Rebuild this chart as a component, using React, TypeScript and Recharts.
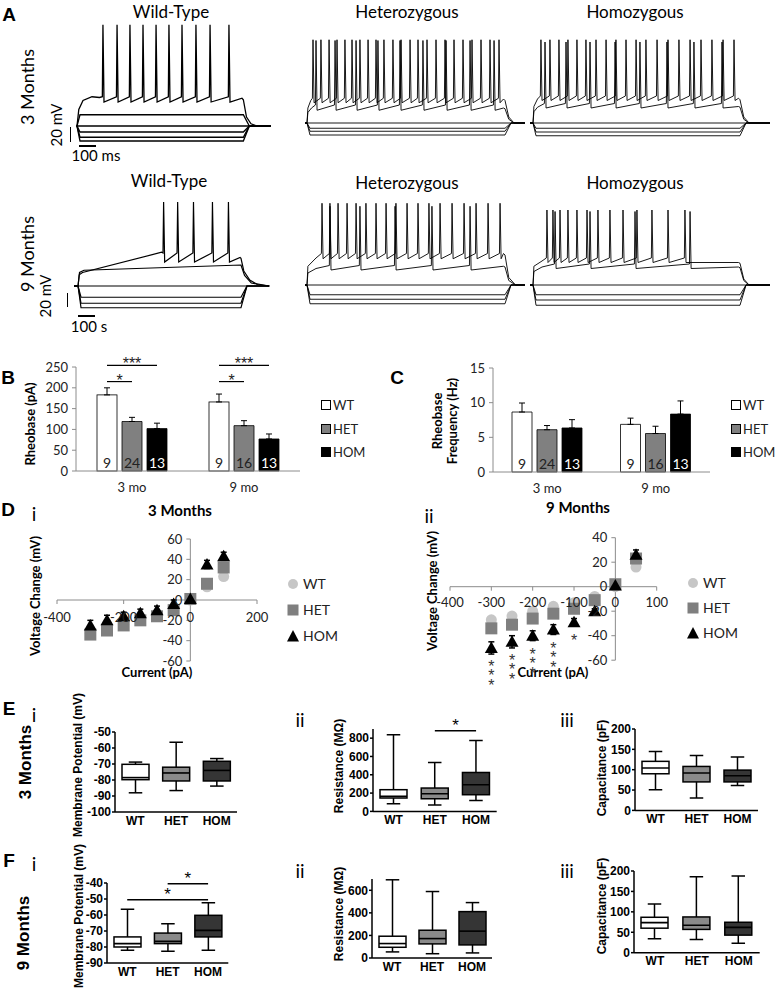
import React from "react";
import {
  BarChart,
  Bar,
  XAxis,
  YAxis,
  ErrorBar,
  LabelList,
  ScatterChart,
  Scatter,
  ReferenceLine,
  ReferenceDot,
  LineChart,
  Line,
} from "recharts";

const SANS = "Lato, 'Open Sans', sans-serif";
const ARIAL = "'Liberation Sans', Arial, sans-serif";
const AXIS = "#8c8c8c";

const groups = ["WT", "HET", "HOM"];
const barFill = ["#ffffff", "#808080", "#000000"];
const dotFill = ["#c6c6c6", "#7f7f7f", "#000000"];
const boxFill = ["#ffffff", "#8a8a8a", "#353535"];

// ---- A: example sweeps (ms from step onset, mV from rest) ----
const wt3Onset = [[-3, 0], [0, 0], [12, 22], [40, 34], [100, 39], [150, 38]];
const wt3Spikes = [173, 267, 353, 440, 527, 613, 700, 793, 887, 1013];
const wt3Shape = [135, 32, 39];
const wt3Tail = [[1100, 37], [1109, 35], [1130, 12], [1160, 3], [1200, 0], [1291, 0]];
const wt3Steps = [15, 0, -8, -15, -20];
const wt3Times = [-3, 1109, 1291];

const het3HiOnset = [[-13, 0], [0, 0], [6, 20], [25, 30]];
const het3HiSpikes = [40, 93, 147, 200, 253, 300, 353, 407, 460, 513, 573, 627, 687, 740, 800, 860, 920, 980, 1040, 1100, 1160, 1220, 1280];
const het3HiShape = [111, 27, 33];
const het3HiTail = [[1310, 32], [1320, 30], [1345, 8], [1380, 0], [1453, 0]];
const het3LoOnset = [[-13, 0], [0, 0], [6, 14], [30, 20]];
const het3LoSpikes = [60, 187, 327, 473, 620, 773, 927, 1087, 1247];
const het3LoShape = [110, 17, 24];
const het3LoTail = [[1310, 20], [1320, 19], [1345, 5], [1380, 0], [1453, 0]];
const het3Steps = [0, -7, -11, -16];
const het3Times = [-13, 1320, 1453];

const hom3HiOnset = [[-20, 0], [0, 0], [6, 22], [30, 32]];
const hom3HiSpikes = [53, 113, 173, 233, 293, 353, 420, 487, 553, 620, 687, 753, 827, 900, 973, 1047, 1120, 1193, 1267, 1340];
const hom3HiShape = [111, 30, 36];
const hom3HiTail = [[1370, 33], [1380, 31], [1405, 8], [1440, 0], [1580, 0]];
const hom3LoOnset = [[-20, 0], [0, 0], [6, 15], [30, 21]];
const hom3LoSpikes = [80, 220, 380, 547, 713, 893, 1073, 1260];
const hom3LoShape = [108, 20, 26];
const hom3LoTail = [[1370, 22], [1380, 21], [1405, 5], [1440, 0], [1580, 0]];
const hom3Steps = [0, -7, -12, -17];
const hom3Times = [-20, 1380, 1580];

const wt9Onset = [[-27, 0], [0, 0], [8, 15], [30, 18], [560, 45]];
const wt9Spikes = [573, 667, 773, 900, 1007];
const wt9Shape = [112, 32, 44];
const wt9Tail = [[1085, 38], [1091, 37], [1110, 20], [1150, 8], [1200, 2], [1280, 0]];
const wt9Sub = [[-27, 0], [0, 0], [10, 18], [40, 21], [1091, 28], [1115, 14], [1160, 4], [1280, 0]];
const wt9Steps = [0, -15, -23, -29];
const wt9Times = [-27, 1091, 1280];

const het9HiOnset = [[-13, 0], [0, 0], [6, 25], [60, 36]];
const het9HiSpikes = [100, 153, 207, 267, 327, 393, 460, 527, 593, 667, 740, 813, 887, 967, 1047, 1127, 1207, 1287];
const het9HiShape = [109, 35, 42];
const het9HiTail = [[1310, 42], [1320, 40], [1345, 10], [1390, 0], [1453, 0]];
const het9LoOnset = [[-13, 0], [0, 0], [6, 16], [60, 22]];
const het9LoSpikes = [153, 353, 587, 833, 1087];
const het9LoShape = [105, 20, 26];
const het9LoTail = [[1310, 25], [1320, 24], [1345, 6], [1390, 0], [1453, 0]];
const het9Steps = [0, -13, -19, -25];
const het9Times = [-13, 1320, 1453];

const hom9HiOnset = [[-20, 0], [0, 0], [6, 25], [60, 32]];
const hom9HiSpikes = [93, 133, 180, 233, 293, 360, 433, 513, 600, 693, 793, 900, 1013];
const hom9HiShape = [100, 30, 36];
const hom9HiTail = [[1370, 30], [1380, 29], [1405, 8], [1440, 0], [1580, 0]];
const hom9LoOnset = [[-20, 0], [0, 0], [6, 18], [60, 24]];
const hom9LoSpikes = [147, 380, 680, 1047];
const hom9LoShape = [98, 22, 28];
const hom9LoTail = [[1370, 24], [1380, 23], [1405, 6], [1440, 0], [1580, 0]];
const hom9Steps = [0, -13, -20, -27];
const hom9Times = [-20, 1380, 1580];

// ---- B: rheobase ----
const ages = ["3 mo", "9 mo"];
const rheobaseWT = [183, 166];
const rheobaseHET = [119, 109];
const rheobaseHOM = [102, 77];
const rheobaseErrWT = [17, 19];
const rheobaseErrHET = [10, 12];
const rheobaseErrHOM = [13, 12];
const cellsWT = [9, 9];
const cellsHET = [24, 16];
const cellsHOM = [13, 13];
const rheobaseSigTo = ["HET", "HOM"];
const rheobaseSigText = ["*", "***"];
const rheobaseSigLevel = [215, 254];

// ---- C: rheobase frequency ----
const freqWT = [8.65, 6.87];
const freqHET = [6.1, 5.55];
const freqHOM = [6.35, 8.35];
const freqErrWT = [1.3, 0.9];
const freqErrHET = [0.6, 1.05];
const freqErrHOM = [1.2, 1.9];

// ---- D: I-V ----
const iv3Currents = [-300, -250, -200, -150, -100, -50, 0, 50, 100];
const iv3WT = [-33, -29, -24, -19, -15, -9, 0, 13, 23];
const iv3HET = [-34, -30, -25, -20, -16, -10, 1, 16, 32];
const iv3HOM = [-25, -20, -16, -13, -10, -4, 1, 35, 43];
const iv3ErrHOM = [5, 5, 4, 4, 4, 4, 2, 4, 4];

const iv9Currents = [-300, -250, -200, -150, -100, -50, 0, 50];
const iv9WT = [-27, -24, -20, -16, -13, -8, 0, 16];
const iv9HET = [-34, -31, -26, -22, -18, -11, 2, 23];
const iv9HOM = [-50, -45, -40, -35, -29, -20, 1, 26];
const iv9ErrHOM = [5, 5, 4, 4, 3, 2, 1, 4];
const iv9Stars = [3, 3, 3, 3, 1, 0, 0, 0];

// ---- E / F: box plots, [min, q1, median, q3, max] for WT, HET, HOM ----
const rmp3mo = [[-88, -79.8, -78.5, -70.2, -68.8], [-86.6, -80.6, -75.6, -72, -56.4], [-83.8, -80.6, -74, -68.3, -66.6]];
const res3mo = [[84, 146, 164, 237, 837], [69, 138, 193, 255, 535], [120, 182, 291, 425, 775]];
const cap3mo = [[51, 90, 104, 120.5, 145], [30.5, 70, 92, 108, 135], [61, 70, 85, 99, 131]];
const rmp9mo = [[-82, -80, -77.9, -73.7, -56.4], [-82.6, -77.9, -76.5, -71.3, -65.4], [-82, -73.7, -69.6, -60.2, -52.3]];
const res9mo = [[54, 95, 128, 193, 693], [38, 125, 172, 246, 589], [45, 116, 238, 411, 491]];
const cap9mo = [[34, 60, 73.5, 86.7, 119], [32, 57, 67, 87.5, 186], [23, 43, 62, 74.5, 188]];
const res3Sig = [["HET", "HOM", 880]];
const rmp9Sig = [["WT", "HOM", -50.4], ["HET", "HOM", -40.4]];

// ---------- helpers ----------
type P = { t: number; v: number };
const toPts = (a: number[][]): P[] => a.map(([t, v]) => ({ t, v }));

function spikingSweep(onset: number[][], spikes: number[], shape: number[], tail: number[][]): P[] {
  const [peak, ahp, pre] = shape;
  const pts = toPts(onset);
  spikes.forEach((s) => pts.push({ t: s - 4, v: pre }, { t: s, v: peak }, { t: s + 7, v: ahp }));
  return pts.concat(toPts(tail));
}

function stepSweep(level: number, times: number[]): P[] {
  const [start, off, end] = times;
  return toPts([[start, 0], [0, 0], [20, level], [off, level], [off + 40, 0], [end, 0]]);
}

const T_DOM = [-20, 1600];
const V_DOM = [-35, 140];
const PX_MS = 0.15;
const PX_MV = 0.75;

function Traces({ x0, y0, sweeps, sw }: any) {
  return (
    <div style={{ position: "absolute", left: x0 + T_DOM[0] * PX_MS, top: y0 - V_DOM[1] * PX_MV }}>
      <LineChart
        width={(T_DOM[1] - T_DOM[0]) * PX_MS}
        height={(V_DOM[1] - V_DOM[0]) * PX_MV}
        margin={{ top: 0, right: 0, bottom: 0, left: 0 }}
      >
        <XAxis type="number" dataKey="t" domain={T_DOM} hide />
        <YAxis type="number" domain={V_DOM} hide />
        {sweeps.map((d: P[], i: number) => (
          <Line key={i} data={d} dataKey="v" type="linear" dot={false} activeDot={false}
            stroke="#000" strokeWidth={sw} isAnimationActive={false} />
        ))}
      </LineChart>
    </div>
  );
}

function Txt({ x, y, size, bold, family = SANS, rot, children, color = "#000" }: any) {
  return (
    <div
      style={{
        position: "absolute", left: x, top: y,
        transform: `translate(-50%,-50%)${rot ? " rotate(-90deg)" : ""}`,
        fontSize: size, fontWeight: bold ? 700 : 400, fontFamily: family,
        whiteSpace: "nowrap", lineHeight: 1.15, textAlign: "center", color,
      }}
    >
      {children}
    </div>
  );
}

const Rule = ({ x, y, w, h }: any) => (
  <div style={{ position: "absolute", left: x, top: y, width: w, height: h, background: "#000" }} />
);

// bar + significance brackets (drawn from the WT bar's own geometry)
const BAR = 20;
const GAP = 5;
function RheobaseWTBar(props: any) {
  const { x, y, width, height, payload } = props;
  const base = y + height;
  const pxPer = height / payload.WT;
  const cx = x + width / 2;
  return (
    <g>
      <rect x={x} y={y} width={width} height={height} fill="#fff" stroke="#000" strokeWidth={0.8} />
      {rheobaseSigLevel.map((lvl, k) => {
        const ly = base - lvl * pxPer;
        const x2 = cx + groups.indexOf(rheobaseSigTo[k]) * (BAR + GAP);
        return (
          <g key={k}>
            <line x1={cx} x2={x2} y1={ly} y2={ly} stroke="#000" strokeWidth={1.2} />
            <text x={(cx + x2) / 2} y={ly + 4} textAnchor="middle" fontSize={16} fontFamily={ARIAL} fill="#222">
              {rheobaseSigText[k]}
            </text>
          </g>
        );
      })}
    </g>
  );
}

function GroupBars({ left, top, width, height, plotLeft, rows, domain, ticks, sigShape }: any) {
  const tick = { fill: "#222", fontSize: 13, fontFamily: SANS };
  return (
    <div style={{ position: "absolute", left, top }}>
      <BarChart width={width} height={height} data={rows} barSize={BAR} barGap={GAP}
        margin={{ top: 22, right: 10, bottom: 0, left: 0 }}>
        <XAxis dataKey="age" tickLine={false} tickMargin={6} height={30} axisLine={{ stroke: AXIS }} tick={tick} />
        <YAxis domain={domain} ticks={ticks} width={plotLeft} tickSize={4} tickMargin={4}
          axisLine={{ stroke: AXIS }} tickLine={{ stroke: AXIS }} tick={tick} interval={0} />
        {groups.map((g, gi) => (
          <Bar key={g} dataKey={g} fill={barFill[gi]} stroke="#000" strokeWidth={0.8}
            isAnimationActive={false} shape={gi === 0 && sigShape ? sigShape : undefined}>
            <ErrorBar dataKey={`${g}e`} direction="y" width={3} stroke="#000" strokeWidth={1} />
            <LabelList dataKey={`${g}n`} position="insideBottom" offset={3}
              fill={gi === 2 ? "#fff" : "#222"} fontSize={14} fontFamily={SANS} />
          </Bar>
        ))}
      </BarChart>
    </div>
  );
}

function SquareLegend({ left, top }: any) {
  return (
    <>
      {groups.map((g, i) => (
        <div key={g} style={{ position: "absolute", left, top: top + i * 23.5, display: "flex", alignItems: "center", fontFamily: SANS, fontSize: 13, color: "#222", lineHeight: "16px" }}>
          <span style={{ display: "inline-block", width: 8, height: 8, background: barFill[i], border: "1px solid #000", marginRight: 2 }} />
          {g}
        </div>
      ))}
    </>
  );
}

const Circle = (p: any) => <circle cx={p.cx} cy={p.cy} r={5.5} fill={dotFill[0]} />;
const Square = (p: any) => <rect x={p.cx - 6} y={p.cy - 6} width={12} height={12} fill={dotFill[1]} />;
const Tri = (p: any) => (
  <path d={`M${p.cx},${p.cy - 6.5} L${p.cx + 6.5},${p.cy + 5} L${p.cx - 6.5},${p.cy + 5} Z`} fill={dotFill[2]} />
);
const markerShapes = [Circle, Square, Tri];
const StarStack = (p: any) => (
  <g>
    {Array.from({ length: p.payload.n }, (_, k) => (
      <text key={k} x={p.cx} y={p.cy + 24 + k * 9.5} textAnchor="middle" fontSize={16} fontFamily={ARIAL} fill="#333">*</text>
    ))}
  </g>
);
const xTickMark = (p: any) => <line x1={p.cx} x2={p.cx} y1={p.cy} y2={p.cy + 4} stroke={AXIS} />;
const yTickMark = (p: any) => <line x1={p.cx - 4} x2={p.cx} y1={p.cy} y2={p.cy} stroke={AXIS} />;

function IVPlot({ box, margin, xDomain, yDomain, xTicks, yTicks, currents, series, homErr, stars, xOff }: any) {
  const [left, top, width, height] = box;
  const rows = series.map((vals: number[]) =>
    currents.map((x: number, i: number) => ({ x, y: vals[i], e: homErr[i], n: stars ? stars[i] : 0 }))
  );
  const lbl = { fontSize: 13, fill: "#222", fontFamily: SANS };
  return (
    <div style={{ position: "absolute", left, top }}>
      <ScatterChart width={width} height={height} margin={margin}>
        <XAxis type="number" dataKey="x" domain={xDomain} hide />
        <YAxis type="number" dataKey="y" domain={yDomain} hide />
        <ReferenceLine x={0} stroke={AXIS} />
        <ReferenceLine y={0} stroke={AXIS} />
        {xTicks.map((v: number) => (
          <ReferenceDot key={`x${v}`} x={v} y={0} r={0} shape={xTickMark}
            label={{ ...lbl, value: v, position: "bottom", offset: xOff }} />
        ))}
        {yTicks.map((v: number) => (
          <ReferenceDot key={`y${v}`} x={0} y={v} r={0} shape={yTickMark}
            label={{ ...lbl, value: v, position: "left", offset: 8 }} />
        ))}
        {rows.map((d: any[], i: number) => (
          <Scatter key={groups[i]} data={d} shape={markerShapes[i]} isAnimationActive={false}>
            {i === 2 ? <ErrorBar dataKey="e" direction="y" width={3} stroke="#000" /> : null}
          </Scatter>
        ))}
        {stars ? <Scatter data={rows[2]} shape={StarStack} isAnimationActive={false} /> : null}
      </ScatterChart>
    </div>
  );
}

function MarkerLegend({ left, top, gap }: any) {
  const icons = [
    <circle cx={7} cy={7} r={5} fill={dotFill[0]} />,
    <rect x={1.5} y={1.5} width={11} height={11} fill={dotFill[1]} />,
    <path d="M7,1 L13,12.5 L1,12.5 Z" fill={dotFill[2]} />,
  ];
  return (
    <>
      {groups.map((g, i) => (
        <div key={g} style={{ position: "absolute", left, top: top + i * gap, display: "flex", alignItems: "center", fontFamily: SANS, fontSize: 14, color: "#222", lineHeight: "16px" }}>
          <svg width={14} height={14} style={{ marginRight: 3 }}>{icons[i]}</svg>
          {g}
        </div>
      ))}
    </>
  );
}

function BoxShape(props: any) {
  const { x, y, width, height, payload } = props;
  const [mn, q1, md, q3, mx] = payload.s;
  const top = Math.min(y, y + height);
  const bot = Math.max(y, y + height);
  const py = (v: number) => bot - ((v - mn) / (mx - mn)) * (bot - top);
  const cx = x + width / 2;
  const cap = width / 4;
  return (
    <g stroke="#000" strokeWidth={1.5}>
      <line x1={cx} x2={cx} y1={py(mx)} y2={py(mn)} />
      <line x1={cx - cap} x2={cx + cap} y1={py(mx)} y2={py(mx)} />
      <line x1={cx - cap} x2={cx + cap} y1={py(mn)} y2={py(mn)} />
      <rect x={x} y={py(q3)} width={width} height={py(q1) - py(q3)} fill={payload.fill} />
      <line x1={x} x2={x + width} y1={py(md)} y2={py(md)} strokeWidth={1.6} />
    </g>
  );
}

function BoxPanel({ plot, stats, domain, ticks, sig = [] }: any) {
  const [x0, y0, x1, y1] = plot;
  const yW = 45;
  const mTop = 26;
  const mRight = 8;
  const xH = 22;
  const left = x0 - yW;
  const top = y0 - mTop;
  const rows = groups.map((g, i) => ({ g, range: [stats[i][0], stats[i][4]], s: stats[i], fill: boxFill[i] }));
  const tick = { fontSize: 12, fontWeight: 700, fill: "#000", fontFamily: ARIAL };
  return (
    <div style={{ position: "absolute", left, top }}>
      <BarChart width={x1 - left + mRight} height={y1 - top + xH} data={rows} barSize={27}
        margin={{ top: mTop, right: mRight, bottom: 0, left: 0 }}>
        <XAxis dataKey="g" height={xH} tickLine={false} tickSize={0} tickMargin={4} interval={0}
          axisLine={{ stroke: "#000", strokeWidth: 1.5 }} tick={tick} />
        <YAxis domain={domain} ticks={ticks} width={yW} tickSize={3} tickMargin={1} interval={0} allowDataOverflow
          axisLine={{ stroke: "#000", strokeWidth: 1.5 }} tickLine={{ stroke: "#000", strokeWidth: 1.5 }} tick={tick} />
        <Bar dataKey="range" shape={BoxShape} isAnimationActive={false} />
        {sig.map(([a, b, lvl]: any, k: number) => (
          <ReferenceLine key={k} segment={[{ x: a, y: lvl }, { x: b, y: lvl }]} stroke="#000" strokeWidth={1.5}
            ifOverflow="visible"
            label={{ value: "*", position: "top", offset: 0, fontSize: 17, fill: "#000", fontFamily: ARIAL }} />
        ))}
      </BarChart>
    </div>
  );
}

const rheoRows = ages.map((age, i) => ({
  age,
  WT: rheobaseWT[i], HET: rheobaseHET[i], HOM: rheobaseHOM[i],
  WTe: [0, rheobaseErrWT[i]], HETe: [0, rheobaseErrHET[i]], HOMe: [0, rheobaseErrHOM[i]],
  WTn: cellsWT[i], HETn: cellsHET[i], HOMn: cellsHOM[i],
}));
const freqRows = ages.map((age, i) => ({
  age,
  WT: freqWT[i], HET: freqHET[i], HOM: freqHOM[i],
  WTe: [0, freqErrWT[i]], HETe: [0, freqErrHET[i]], HOMe: [0, freqErrHOM[i]],
  WTn: cellsWT[i], HETn: cellsHET[i], HOMn: cellsHOM[i],
}));

const sweepsOf = (steps: number[], times: number[], spiking: P[][], extra: P[][] = []) =>
  [...steps.map((l) => stepSweep(l, times)), ...extra, ...spiking];

export default function App() {
  const wt3 = sweepsOf(wt3Steps, wt3Times, [spikingSweep(wt3Onset, wt3Spikes, wt3Shape, wt3Tail)]);
  const het3 = sweepsOf(het3Steps, het3Times, [
    spikingSweep(het3LoOnset, het3LoSpikes, het3LoShape, het3LoTail),
    spikingSweep(het3HiOnset, het3HiSpikes, het3HiShape, het3HiTail),
  ]);
  const hom3 = sweepsOf(hom3Steps, hom3Times, [
    spikingSweep(hom3LoOnset, hom3LoSpikes, hom3LoShape, hom3LoTail),
    spikingSweep(hom3HiOnset, hom3HiSpikes, hom3HiShape, hom3HiTail),
  ]);
  const wt9 = sweepsOf(wt9Steps, wt9Times, [spikingSweep(wt9Onset, wt9Spikes, wt9Shape, wt9Tail)], [toPts(wt9Sub)]);
  const het9 = sweepsOf(het9Steps, het9Times, [
    spikingSweep(het9LoOnset, het9LoSpikes, het9LoShape, het9LoTail),
    spikingSweep(het9HiOnset, het9HiSpikes, het9HiShape, het9HiTail),
  ]);
  const hom9 = sweepsOf(hom9Steps, hom9Times, [
    spikingSweep(hom9LoOnset, hom9LoSpikes, hom9LoShape, hom9LoTail),
    spikingSweep(hom9HiOnset, hom9HiSpikes, hom9HiShape, hom9HiTail),
  ]);

  return (
    <div style={{ position: "absolute", left: 0, top: 0, width: 777, height: 995, background: "#fff", fontFamily: SANS, color: "#000", overflow: "hidden" }}>
      {/* A */}
      <Txt x={9} y={15} size={19} bold family={ARIAL}>A</Txt>
      <Txt x={171} y={12} size={17}>Wild-Type</Txt>
      <Txt x={407} y={12} size={17}>Heterozygous</Txt>
      <Txt x={635} y={12} size={17}>Homozygous</Txt>
      <Txt x={169} y={181} size={17}>Wild-Type</Txt>
      <Txt x={407} y={183} size={17}>Heterozygous</Txt>
      <Txt x={635} y={183} size={17}>Homozygous</Txt>
      <Txt x={27} y={87} size={18} rot>3 Months</Txt>
      <Txt x={27} y={254} size={18} rot>9 Months</Txt>
      <Txt x={57} y={125} size={15} rot>20 mV</Txt>
      <Txt x={46} y={296} size={15} rot>20 mV</Txt>
      <Txt x={96} y={156} size={15}>100 ms</Txt>
      <Txt x={89} y={327} size={15}>100 s</Txt>
      <Rule x={69.5} y={127} w={1.5} h={15} />
      <Rule x={79} y={145} w={17} h={1.5} />
      <Rule x={66.5} y={293} w={1.5} h={14} />
      <Rule x={78} y={315} w={17} h={1.5} />
      <Traces x0={77} y0={126} sweeps={wt3} sw={1.3} />
      <Traces x0={307} y0={123} sweeps={het3} sw={0.9} />
      <Traces x0={533} y0={123} sweeps={hom3} sw={0.9} />
      <Traces x0={77} y0={286} sweeps={wt9} sw={1.2} />
      <Traces x0={307} y0={285} sweeps={het9} sw={0.9} />
      <Traces x0={533} y0={285} sweeps={hom9} sw={0.9} />

      {/* B */}
      <Txt x={8} y={378} size={19} bold family={ARIAL}>B</Txt>
      <Txt x={30} y={424} size={13} bold rot>Rheobase (pA)</Txt>
      <GroupBars left={0} top={345} width={310} height={156} plotLeft={76} rows={rheoRows}
        domain={[0, 250.05]} ticks={[0, 50, 100, 150, 200, 250]} sigShape={RheobaseWTBar} />
      <SquareLegend left={321} top={397} />

      {/* C */}
      <Txt x={397} y={378} size={19} bold family={ARIAL}>C</Txt>
      <Txt x={445} y={421} size={13} bold rot>Rheobase<br />Frequency (Hz)</Txt>
      <GroupBars left={390} top={346} width={330} height={156} plotLeft={103} rows={freqRows}
        domain={[0, 15]} ticks={[0, 5, 10, 15]} />
      <SquareLegend left={731} top={397} />

      {/* D */}
      <Txt x={8} y={510} size={19} bold family={ARIAL}>D</Txt>
      <Txt x={34} y={514} size={19}>i</Txt>
      <Txt x={429} y={516} size={19}>ii</Txt>
      <Txt x={180} y={511} size={15} bold>3 Months</Txt>
      <Txt x={578} y={508} size={15} bold>9 Months</Txt>
      <Txt x={35} y={596} size={13} bold rot>Voltage Change (mV)</Txt>
      <Txt x={432} y={591} size={13} bold rot>Voltage Change (mV)</Txt>
      <Txt x={157} y={672} size={13} bold>Current (pA)</Txt>
      <Txt x={553} y={672} size={13} bold>Current (pA)</Txt>
      <IVPlot box={[40, 525, 230, 150]} margin={{ top: 14, right: 13, bottom: 14, left: 17 }}
        xDomain={[-400, 200]} yDomain={[-60, 60]} xTicks={[-400, -200, 0, 200]}
        yTicks={[-60, -40, -20, 0, 20, 40, 60]} currents={iv3Currents}
        series={[iv3WT, iv3HET, iv3HOM]} homErr={iv3ErrHOM} xOff={13} />
      <IVPlot box={[430, 520, 240, 180]} margin={{ top: 17.7, right: 13.3, bottom: 39.8, left: 20 }}
        xDomain={[-400, 100]} yDomain={[-60, 40]} xTicks={[-400, -300, -200, -100, 0, 100]}
        yTicks={[-60, -40, -20, 0, 20, 40]} currents={iv9Currents}
        series={[iv9WT, iv9HET, iv9HOM]} homErr={iv9ErrHOM} stars={iv9Stars} xOff={11} />
      <MarkerLegend left={286} top={576} gap={26} />
      <MarkerLegend left={686} top={575} gap={25} />

      {/* E */}
      <Txt x={9} y={709} size={19} bold family={ARIAL}>E</Txt>
      <Txt x={34} y={715} size={19}>i</Txt>
      <Txt x={300} y={720} size={19}>ii</Txt>
      <Txt x={567} y={720} size={19}>iii</Txt>
      <Txt x={26} y={762} size={17} bold family={ARIAL} rot>3 Months</Txt>
      <Txt x={79} y={765} size={12} bold family={ARIAL} rot>Membrane Potential (mV)</Txt>
      <Txt x={340} y={766} size={12} bold family={ARIAL} rot>Resistance (MΩ)</Txt>
      <Txt x={603} y={768} size={12} bold family={ARIAL} rot>Capacitance (pF)</Txt>
      <BoxPanel plot={[115, 731.7, 237, 811.7]} stats={rmp3mo} domain={[-100, -50]} ticks={[-100, -90, -80, -70, -60, -50]} />
      <BoxPanel plot={[373.3, 729.3, 497, 811.7]} stats={res3mo} domain={[0, 900]} ticks={[0, 200, 400, 600, 800]} sig={res3Sig} />
      <BoxPanel plot={[635, 729.3, 758, 810.7]} stats={cap3mo} domain={[0, 200]} ticks={[0, 50, 100, 150, 200]} />

      {/* F */}
      <Txt x={9} y={861} size={19} bold family={ARIAL}>F</Txt>
      <Txt x={34} y={864} size={19}>i</Txt>
      <Txt x={300} y={871} size={19}>ii</Txt>
      <Txt x={567} y={871} size={19}>iii</Txt>
      <Txt x={24} y={933} size={17} bold family={ARIAL} rot>9 Months</Txt>
      <Txt x={80} y={916} size={12} bold family={ARIAL} rot>Membrane Potential (mV)</Txt>
      <Txt x={340} y={914} size={12} bold family={ARIAL} rot>Resistance (MΩ)</Txt>
      <Txt x={603} y={906} size={12} bold family={ARIAL} rot>Capacitance (pF)</Txt>
      <BoxPanel plot={[106.7, 882.7, 228, 962.7]} stats={rmp9mo} domain={[-90, -40]} ticks={[-90, -80, -70, -60, -50, -40]} sig={rmp9Sig} />
      <BoxPanel plot={[371.7, 879.3, 491.7, 958.3]} stats={res9mo} domain={[0, 700]} ticks={[0, 200, 400, 600]} />
      <BoxPanel plot={[634.3, 871, 760, 952.7]} stats={cap9mo} domain={[0, 200]} ticks={[0, 50, 100, 150, 200]} />
    </div>
  );
}
